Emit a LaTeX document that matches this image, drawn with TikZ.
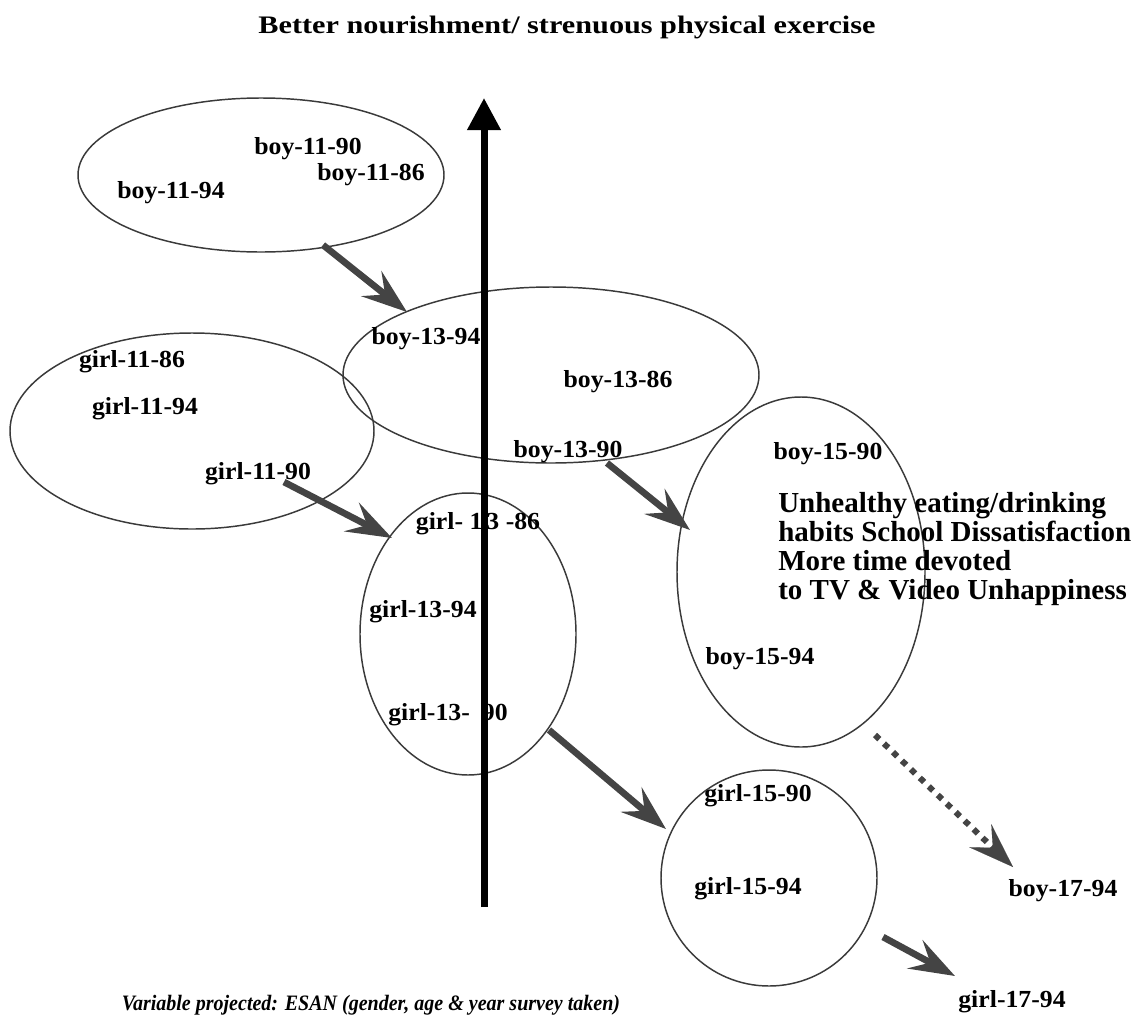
\documentclass[tikz,border=0pt]{standalone}
\usepackage{fontspec}
\setmainfont{Liberation Serif}
\newfontfamily\lblfont{Liberation Serif}[FakeStretch=1.05]
\newfontfamily\titlefont{Liberation Serif}[FakeStretch=1.2]
\newfontfamily\capfont{Liberation Serif}[FakeStretch=0.91]
\usetikzlibrary{shapes.geometric,arrows.meta}
\definecolor{arrowgray}{HTML}{444444}
\definecolor{linegray}{HTML}{3A3A3A}
\tikzset{
  blob/.style={ellipse, draw=linegray, line width=1.1pt, inner sep=0pt},
  lbl/.style={anchor=base, inner sep=0pt, font=\lblfont\bfseries\fontsize{18.4pt}{21pt}\selectfont},
  flow/.style={draw=arrowgray, line width=5pt, -{Stealth[length=34pt, width=24pt, inset=13pt, fill=arrowgray]}},
  dotflow/.style={draw=arrowgray, line width=4.5pt, dash pattern=on 4.5pt off 4.8pt, -{Stealth[length=34pt, width=24pt, inset=13pt, fill=arrowgray, line width=0.1pt]}},
  axis/.style={draw=black, line width=5.25pt, -{Triangle[length=24pt, width=24pt]}}
}
\begin{document}
\begin{tikzpicture}[x=0.75pt, y=-0.75pt]
\useasboundingbox[fill=white] (0,0) rectangle (1135,1025);

% title
\node[anchor=base, inner sep=0pt, font=\titlefont\bfseries\fontsize{18.9pt}{22pt}\selectfont] (title) at (567,33) {Better nourishment/ strenuous physical exercise};

% ellipses
\node[blob, minimum width=274.5pt, minimum height=115.5pt] (e1) at (261,175) {};
\node[blob, minimum width=273pt, minimum height=147pt] (e3) at (192,431) {};
\node[blob, minimum width=312pt, minimum height=132pt] (e2) at (551,375) {};
\node[blob, minimum width=162pt, minimum height=211.5pt] (e4) at (468,634) {};
\node[blob, minimum width=186pt, minimum height=262.5pt] (e5) at (801,572) {};
\node[blob, minimum width=162pt, minimum height=162pt] (e6) at (769,878) {};

% labels
\node[lbl] (b1190) at (308,154) {boy-11-90};
\node[lbl] (b1186) at (371,180) {boy-11-86};
\node[lbl] (b1194) at (171,198) {boy-11-94};
\node[lbl] (b1394) at (426,344) {boy-13-94};
\node[lbl] (b1386) at (618,387) {boy-13-86};
\node[lbl] (b1390) at (568,457) {boy-13-90};
\node[lbl] (g1186) at (132,367) {girl-11-86};
\node[lbl] (g1194) at (145,414) {girl-11-94};
\node[lbl] (g1190) at (258,479) {girl-11-90};
\node[lbl] (g1386) at (478,529) {girl- 1\hspace{3pt}3 -86};
\node[lbl] (g1394) at (423,617) {girl-13-94};
\node[lbl] (g1390) at (448,720) {girl-13-\hspace{9pt}90};
\node[lbl] (b1590) at (828,459) {boy-15-90};
\node[lbl] (b1594) at (760,664) {boy-15-94};
\node[lbl] (g1590) at (758,801) {girl-15-90};
\node[lbl] (g1594) at (748,894) {girl-15-94};
\node[lbl] (b1794) at (1063,896) {boy-17-94};
\node[lbl] (g1794) at (1012,1007) {girl-17-94};

% description block (base = baseline of last line)
\node[anchor=base west, inner sep=0pt, align=left, font=\bfseries\fontsize{21.75pt}{21.75pt}\selectfont] (desc) at (778,599)
  {Unhealthy eating/drinking\\habits School Dissatisfaction\\More time devoted\\to TV \& Video Unhappiness};

% caption
\node[anchor=base, inner sep=0pt, font=\capfont\bfseries\itshape\fontsize{16.5pt}{19pt}\selectfont] (cap) at (371,1010)
  {Variable projected: ESAN (gender, age \& year survey taken)};

% arrow end points
\coordinate (ax0) at (484,907);
\coordinate (ax1) at (484,98);
\coordinate (a1s) at (323,245); \coordinate (a1e) at (407,312);
\coordinate (a2s) at (284,482); \coordinate (a2e) at (392,538);
\coordinate (a3s) at (607,463); \coordinate (a3e) at (690,530);
\coordinate (a4s) at (549,730); \coordinate (a4e) at (666,829);
\coordinate (a5s) at (875,735); \coordinate (a5e) at (1013,867);
\coordinate (a6s) at (883,937); \coordinate (a6e) at (955,976);

\draw[axis] (ax0) -- (ax1);
\draw[flow] (a1s) -- (a1e);
\draw[flow] (a2s) -- (a2e);
\draw[flow] (a3s) -- (a3e);
\draw[flow] (a4s) -- (a4e);
\draw[dotflow] (a5s) -- (a5e);
\draw[flow] (a6s) -- (a6e);
\end{tikzpicture}
\end{document}
